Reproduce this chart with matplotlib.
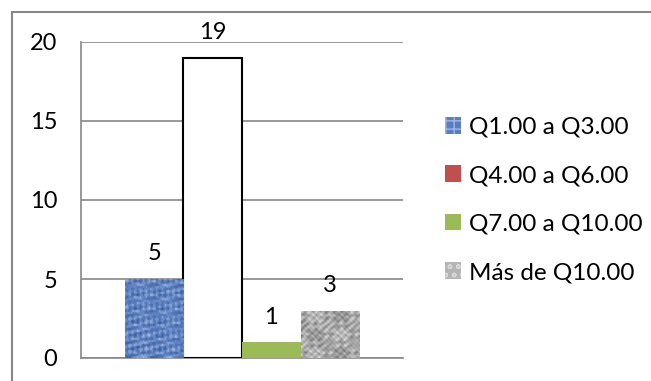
import numpy as np
import matplotlib.pyplot as plt
from matplotlib.patches import Rectangle, Patch
from matplotlib.colors import LinearSegmentedColormap

plt.rcParams['font.family'] = ['Lato', 'DejaVu Sans']

# datos
categorias = ['Q1.00 a Q3.00', 'Q4.00 a Q6.00', 'Q7.00 a Q10.00', 'Más de Q10.00']
valores = [5, 19, 1, 3]
yticks = [0, 5, 10, 15, 20]

fig = plt.figure(figsize=(6.51, 3.81), dpi=100)
ax = fig.add_axes([81/651, 23/381, 322/651, 316/381])

x = np.arange(len(valores))
caras = ['#5a7fc0', 'white', '#9bbb59', '#a8a8a8']
bordes = ['none', 'black', 'none', 'none']
barras = ax.bar(x, valores, width=1.0, color=caras, edgecolor=bordes,
                linewidth=1.5, zorder=3)

# texturas de tela (azul) y piedra (gris)
gx, gy = np.meshgrid(np.arange(40), np.arange(40))
tela = (np.sin(gx * 1.7) * np.cos(gy * 0.45) + np.sin(gy * 1.9 + gx * 0.3)
        + 0.6 * np.sin(gx * 3.1 + gy * 2.3) + 0.5 * np.cos(gx * 0.8 - gy * 2.7)
        + 0.7 * np.sin(gx * 0.37 + np.cos(gy * 0.9) * 3))
piedra = (np.sin(gx * 0.55 + np.cos(gy * 0.4) * 2) * np.cos(gy * 0.6 + np.sin(gx * 0.35) * 2)
          + 0.5 * np.sin(gx * 1.3 + gy * 1.1) + 0.4 * np.cos(gx * 2.3 - gy * 1.7))
cm_azul = LinearSegmentedColormap.from_list('azul', ['#24447f', '#5b80c2', '#c9d8f4'])
cm_gris = LinearSegmentedColormap.from_list('gris', ['#6e6e6e', '#a9a9a9', '#e6e6e6'])
for i, tex, cm in [(0, tela, cm_azul), (3, piedra, cm_gris)]:
    b = barras[i]
    im = ax.imshow(tex, cmap=cm, extent=(b.get_x(), b.get_x() + b.get_width(), 0, b.get_height()),
                   aspect='auto', interpolation='bilinear', zorder=3.5)
    im.set_clip_path(b)

for xi, v in zip(x, valores):
    ax.annotate(str(v), (xi, v), xytext=(0, 18), textcoords='offset points',
                ha='center', va='center', fontsize=17, annotation_clip=False)

ax.set_xlim(-1.25, 4.25)
ax.set_ylim(0, 20)
ax.set_yticks(yticks)
ax.set_xticks([])
ax.tick_params(axis='y', length=0, pad=17, labelsize=17)
ax.yaxis.grid(True, color='#888888', linewidth=1.2, zorder=0)
ax.set_axisbelow(True)
for s in ['top', 'right']:
    ax.spines[s].set_visible(False)
for s in ['left', 'bottom']:
    ax.spines[s].set_color('#888888')
    ax.spines[s].set_linewidth(1.2)

# leyenda
handles = [Patch(facecolor='#5a7fc0', hatch='++', edgecolor='#9fb8e6', linewidth=0),
           Patch(facecolor='#c0504d'),
           Patch(facecolor='#9bbb59'),
           Patch(facecolor='#b5b5b5', hatch='oo', edgecolor='#d8d8d8', linewidth=0)]
fig.legend(handles, categorias, loc='center left', bbox_to_anchor=(445/651, 1 - 200/381),
           frameon=False, fontsize=17.5, handlelength=0.67, handleheight=0.67,
           handletextpad=0.3, labelspacing=1.13, borderpad=0, borderaxespad=0)

# marco del gráfico
fig.add_artist(Rectangle((12/651, -0.1), 1.0, 1 - 12/381 + 0.1, transform=fig.transFigure,
                         fill=False, edgecolor='#888888', linewidth=1.5))

fig.savefig('out.png', dpi=100)
